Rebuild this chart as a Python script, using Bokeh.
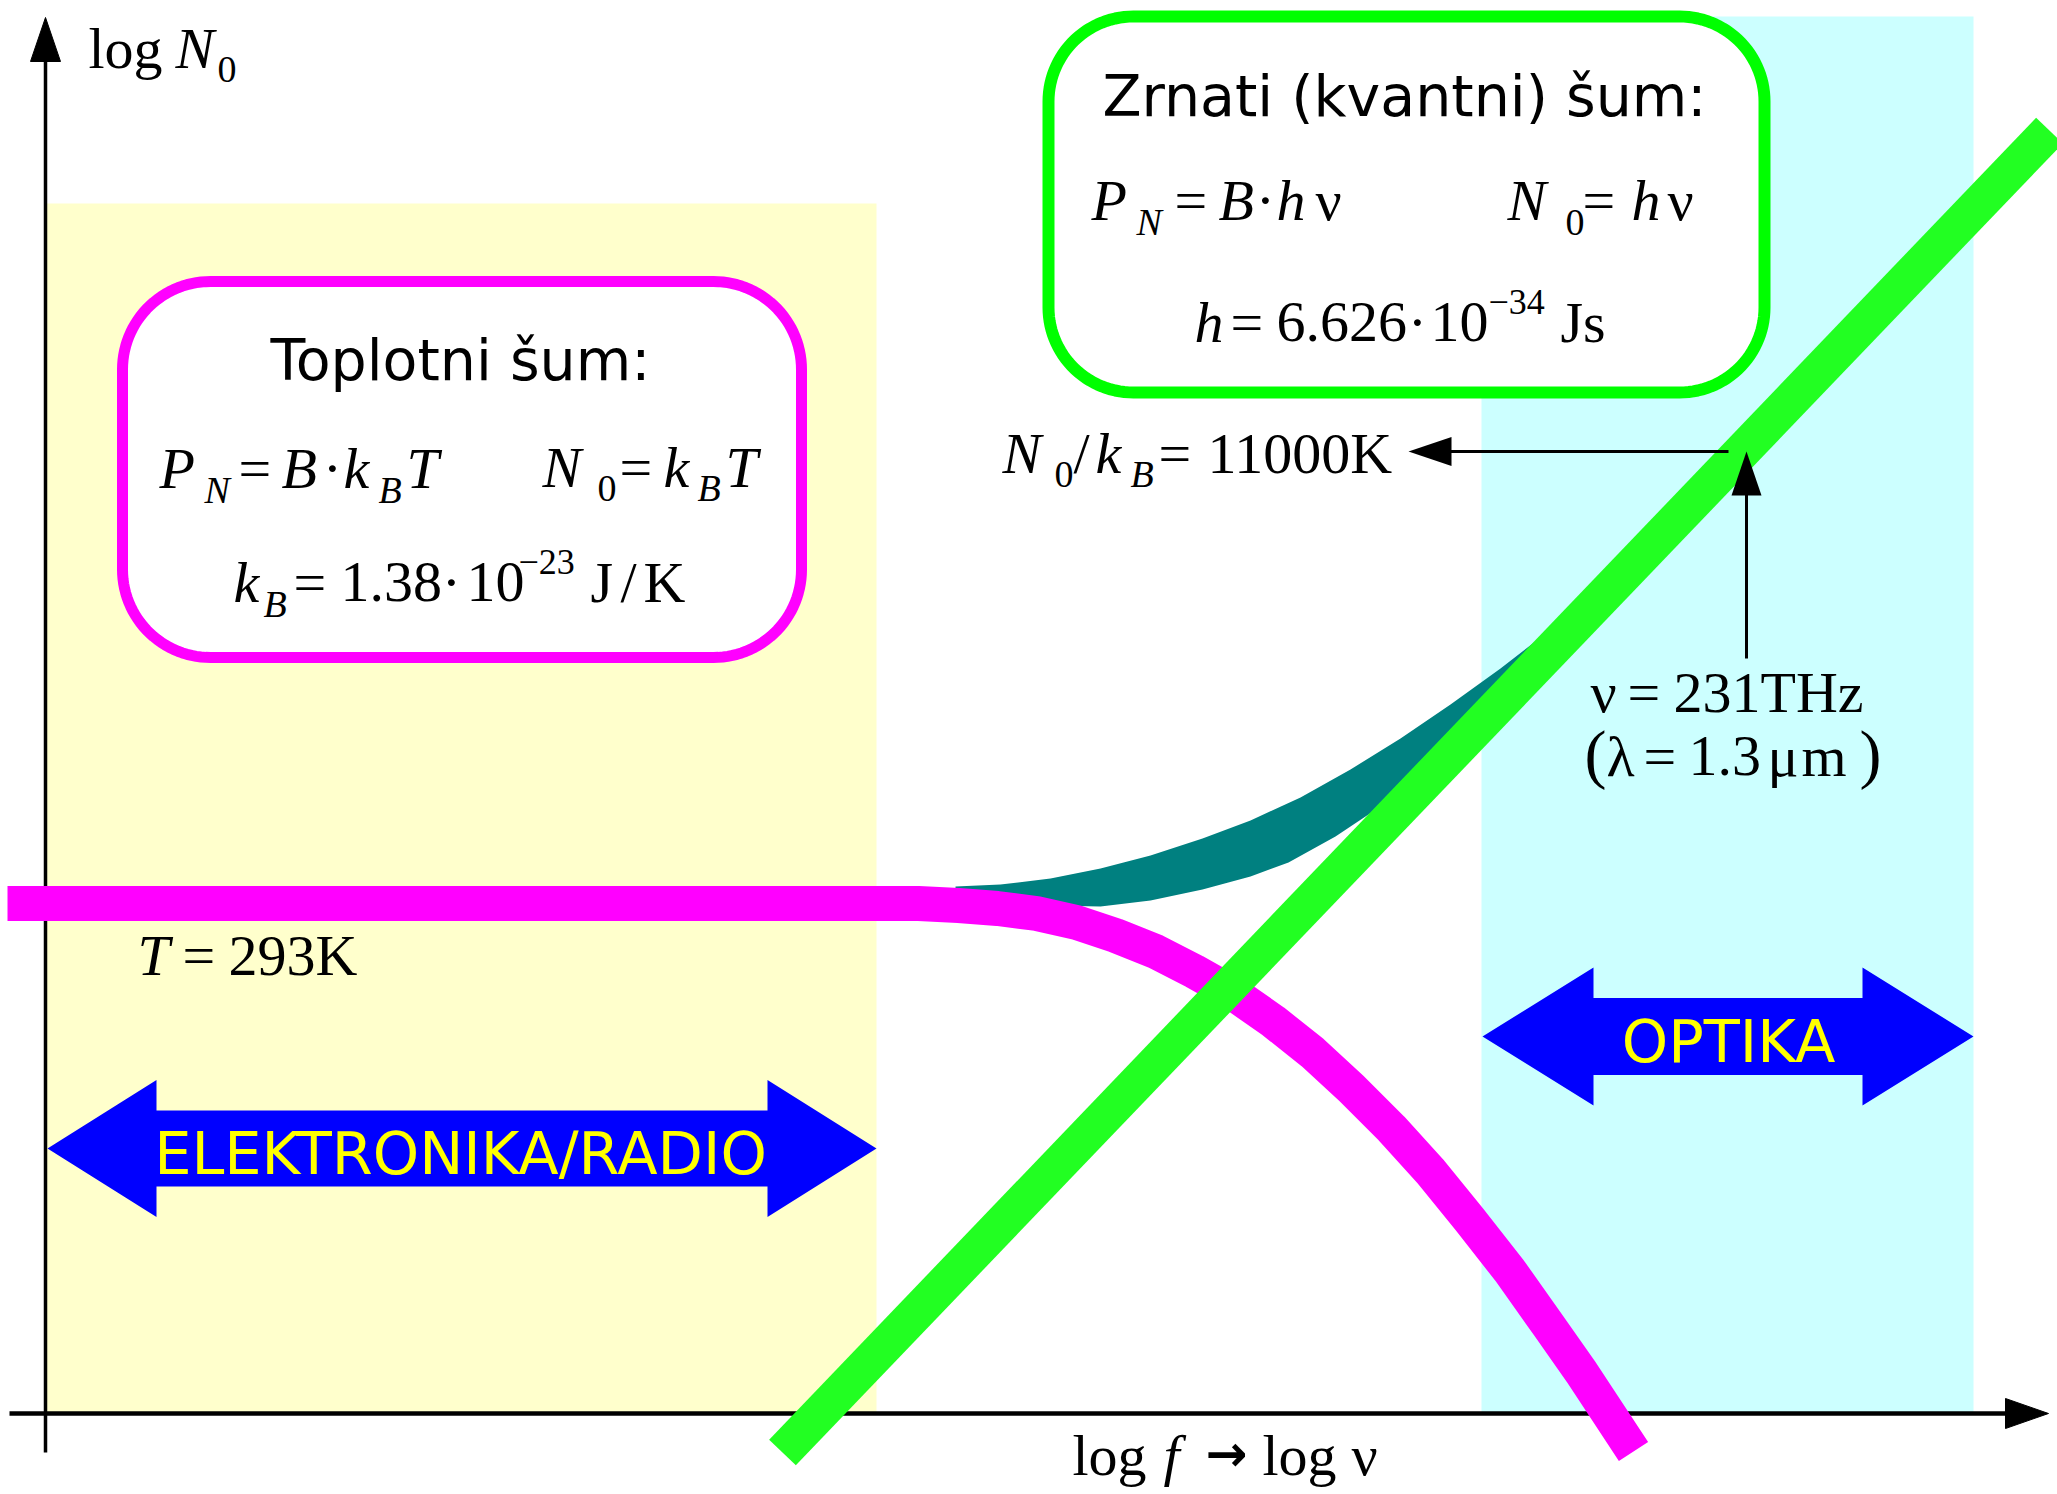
import numpy as np
from bokeh.plotting import figure
from bokeh.models import Range1d, ColumnDataSource
from bokeh.core.properties import field
from bokeh.embed import file_html
from bokeh.resources import INLINE

# Chart coordinates: x = log f (log nu), y = log N0; origin where the two axes cross.

# Thermal noise N0 = kB*T : flat, then rolling off at high frequency
thermal_x = [-38, 873, 913, 952, 991, 1031, 1070, 1110, 1149, 1188, 1228, 1267,
             1306, 1346, 1385, 1424, 1464, 1503, 1536, 1563, 1588]
thermal_y = [510, 510, 508, 505, 500, 491, 478, 462, 442, 420, 392, 361,
             325, 285, 242, 194, 143, 88, 41, 0, -38]

# Total noise (thermal + quantum): upper and lower edge of the band
total_top_x = [910, 955, 1005, 1055, 1105, 1157, 1205, 1255, 1305, 1355, 1405, 1455, 1495, 1520, 1545]
total_top_y = [527, 529, 535, 545, 558, 575, 593, 616, 644, 675, 709, 745, 776, 802, 813]
total_bot_x = [1545, 1475, 1425, 1375, 1335, 1290, 1243, 1205, 1157, 1105, 1055, 1005, 910]
total_bot_y = [801, 716, 675, 636, 607, 577, 551, 537, 524, 513, 507, 508, 510]

# Quantum (shot) noise N0 = h*nu
quantum_x = [737, 2004]
quantum_y = [-39, 1283]

# Crossover point N0/kB = 11000 K, nu = 231 THz
cross_x = 1701
cross_y = 962

# Frequency regions (left, right, bottom, top)
radio_band = (0, 831, 0, 1210)
optics_band = (1436, 1928, 0, 1397)

SERIF = "Liberation Serif"
SANS = "DejaVu Sans"

p = figure(width=2057, height=1494, x_range=Range1d(-45, 2012), y_range=Range1d(-81, 1413),
           output_backend="svg", toolbar_location=None, min_border=0)
p.axis.visible = False
p.grid.visible = False
p.outline_line_color = None
p.background_fill_color = "white"
p.border_fill_color = "white"

# region shading
p.quad(left=[radio_band[0]], right=[radio_band[1]], bottom=[radio_band[2]], top=[radio_band[3]],
       fill_color="#ffffcc", line_color=None)
p.quad(left=[optics_band[0]], right=[optics_band[1]], bottom=[optics_band[2]], top=[optics_band[3]],
       fill_color="#ccffff", line_color=None)

# axes with arrow heads
p.segment(x0=[-36, 0], y0=[0, -39], x1=[1962, 0], y1=[0, 1354], line_color="black",
          line_width=[4.5, 3.5])
p.patch([2003, 1960, 1960], [0, 15, -15], fill_color="black", line_color="black", line_width=1)
p.patch([0, -15, 15], [1396, 1352, 1352], fill_color="black", line_color="black", line_width=1)


def rounded_outline(left, right, bottom, top, r, n=30):
    xs, ys = [], []
    corners = [(right - r, top - r, 0, 90), (left + r, top - r, 90, 180),
               (left + r, bottom + r, 180, 270), (right - r, bottom + r, 270, 360)]
    for cx, cy, a0, a1 in corners:
        t = np.radians(np.linspace(a0, a1, n))
        xs.extend(cx + r * np.cos(t))
        ys.extend(cy + r * np.sin(t))
    return xs, ys


bx, by = rounded_outline(77, 756, 756, 1132, 88)
p.patch(bx, by, fill_color="white", line_color="#ff00ff", line_width=11)
bx, by = rounded_outline(1003, 1719, 1021, 1397, 85)
p.patch(bx, by, fill_color="white", line_color="#00ff00", line_width=12)


def double_arrow(x0, x1, yc, head_len, head_half, shaft_half):
    xs = [x0, x0 + head_len, x0 + head_len, x1 - head_len, x1 - head_len, x1,
          x1 - head_len, x1 - head_len, x0 + head_len, x0 + head_len]
    ys = [yc, yc + head_half, yc + shaft_half, yc + shaft_half, yc + head_half, yc,
          yc - head_half, yc - shaft_half, yc - shaft_half, yc - head_half]
    return xs, ys


ax_, ay_ = double_arrow(2, 831, 265, 109, 68.5, 38)
p.patch(ax_, ay_, fill_color="#0000ff", line_color=None)
ax_, ay_ = double_arrow(1437, 1928, 377, 111, 69, 38.5)
p.patch(ax_, ay_, fill_color="#0000ff", line_color=None)

# noise curves
p.patch(total_top_x + total_bot_x, total_top_y + total_bot_y, fill_color="#008080", line_color=None)
p.line(thermal_x, thermal_y, line_color="#ff00ff", line_width=35, line_join="round")
p.line(quantum_x, quantum_y, line_color="#22ff22", line_width=37)

# crossover markers
p.segment(x0=[1683, cross_x], y0=[cross_y, 755], x1=[1400, cross_x], y1=[cross_y, 924],
          line_color="black", line_width=3)
p.patch([1363, 1406, 1406], [cross_y, cross_y + 14.5, cross_y - 14.5], fill_color="black", line_color=None)
p.patch([cross_x, cross_x - 15, cross_x + 15], [cross_y, 918, 918], fill_color="black", line_color=None)

# text pieces: (x, y, text, font, size, style, align, color); y is the baseline
pieces = []
BASELINE_SHIFT = 0.35  # svg text is drawn this fraction of the font size below the anchor


def t(x, y, s, size=58, style="normal", font=SERIF, align="left", color="black"):
    pieces.append((x, y + BASELINE_SHIFT * size, s, font, f"{size}px", style, align, color))


# axis labels
t(43, 1345, "log")
t(130, 1345, "N", style="italic")
t(172, 1331, "0", size=38)
t(1027, -62, "log")
t(1118, -62, "f", style="italic")
t(1160, -58, "→", size=50, style="bold", font=SANS)
t(1217, -62, "log")
t(1306, -62, "ν")

# temperature
t(92, 438, "T", style="italic")
t(137, 438, "=")
t(183, 438, "293K")

# thermal noise box
t(415, 1034, "Toplotni šum:", size=57, font=SANS, align="center")
t(114, 925, "P", style="italic")
t(159, 910, "N", size=38, style="italic")
t(193, 925, "=")
t(236, 925, "B", style="italic")
t(287, 925, "·", align="center")
t(298, 925, "k", style="italic")
t(333, 910, "B", size=38, style="italic")
t(361, 925, "T", style="italic")
t(497, 926, "N", style="italic")
t(552, 912, "0", size=38)
t(574, 926, "=")
t(618, 926, "k", style="italic")
t(652, 912, "B", size=38, style="italic")
t(680, 926, "T", style="italic")
t(188, 811, "k", style="italic")
t(218, 796, "B", size=38, style="italic")
t(248, 811, "=")
t(295, 811, "1.38")
t(406, 811, "·", align="center")
t(421, 811, "10")
t(473, 839, "−23", size=36)
t(545, 811, "J")
t(575, 811, "/")
t(598, 811, "K")

# quantum noise box
t(1359, 1298, "Zrnati (kvantni) šum:", size=57, font=SANS, align="center")
t(1046, 1193, "P", style="italic")
t(1091, 1178, "N", size=38, style="italic")
t(1129, 1193, "=")
t(1173, 1193, "B", style="italic")
t(1220, 1193, "·", align="center")
t(1231, 1193, "h", style="italic")
t(1270, 1193, "ν")
t(1462, 1193, "N", style="italic")
t(1520, 1178, "0", size=38)
t(1537, 1193, "=")
t(1586, 1193, "h", style="italic")
t(1622, 1193, "ν")
t(1149, 1071, "h", style="italic")
t(1185, 1071, "=")
t(1231, 1071, "6.626")
t(1372, 1071, "·", align="center")
t(1385, 1071, "10")
t(1443, 1099, "−34", size=36)
t(1515, 1071, "Js")

# crossover labels
t(957, 940, "N", style="italic")
t(1009, 926, "0", size=38)
t(1028, 940, "/")
t(1050, 940, "k", style="italic")
t(1085, 926, "B", size=38, style="italic")
t(1113, 940, "=")
t(1162, 940, "11000K")
t(1545, 701, "ν")
t(1582, 701, "=")
t(1628, 701, "231THz")
t(1539, 637, "(", size=66)
t(1561, 637, "λ")
t(1598, 637, "=")
t(1643, 637, "1.3")
t(1722, 637, "μ")
t(1756, 637, "m")
t(1814, 637, ")", size=66)

# region labels
t(415, 239, "ELEKTRONIKA/RADIO", size=59, font=SANS, align="center", color="#ffff00")
t(1683, 351, "OPTIKA", size=59, font=SANS, align="center", color="#ffff00")

cols = list(zip(*pieces))
src = ColumnDataSource(dict(x=list(cols[0]), y=list(cols[1]), text=list(cols[2]), font=list(cols[3]),
                            size=list(cols[4]), style=list(cols[5]), align=list(cols[6]),
                            color=list(cols[7])))
p.text(x="x", y="y", text="text", source=src, text_font=field("font"), text_font_size=field("size"),
       text_font_style=field("style"), text_align=field("align"), text_color=field("color"),
       text_baseline="alphabetic")

open("out.html", "w").write(file_html(p, INLINE))
